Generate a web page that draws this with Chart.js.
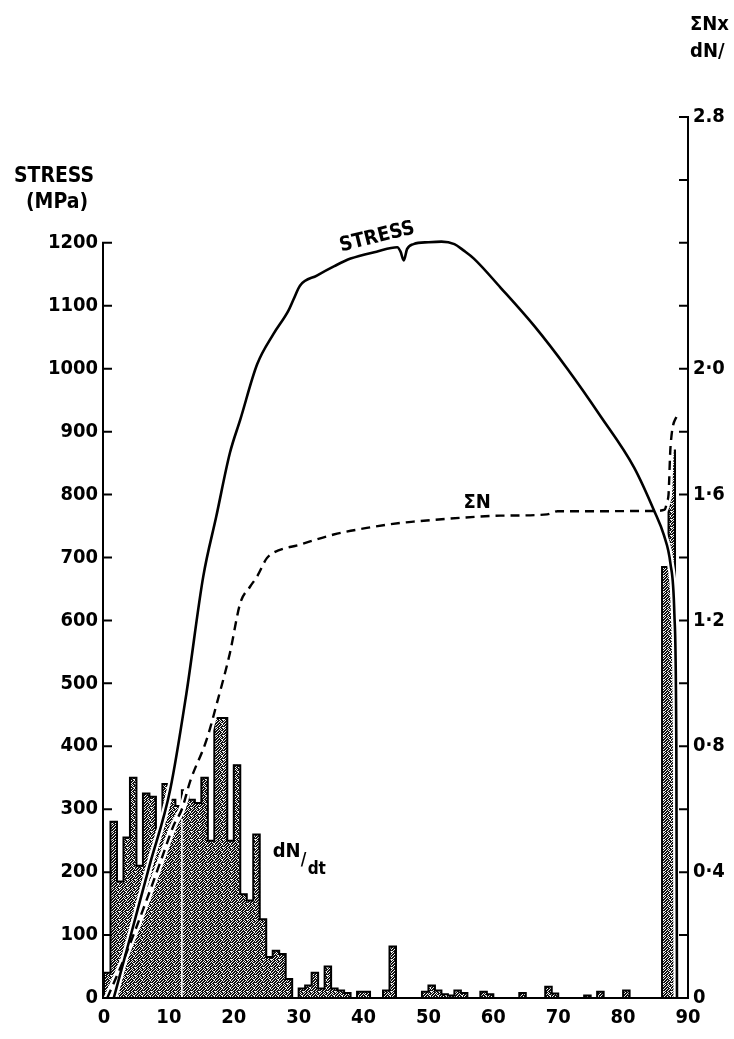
<!DOCTYPE html>
<html>
<head>
<meta charset="utf-8">
<script src="https://cdn.jsdelivr.net/npm/chart.js@4"></script>
<style>
  html, body { margin: 0; padding: 0; background: #fff; }
  canvas { display: block; }
</style>
</head>
<body>
<canvas id="stressChart" width="734" height="1039"></canvas>
<script>
// stress curve, left axis (MPa)
const stressTime = [1.5, 4, 7, 10.2, 12.7, 15.3, 17.3, 19.4, 21.0, 23.6, 26.1, 28.4, 29.2, 30.2, 32.8, 35.5, 38, 42, 45.2, 45.7, 46.2, 46.7, 47.7, 50, 52, 54, 55.4, 57, 61.1, 66.3, 71.4, 76.5, 81.7, 84.8, 86.3, 87.3, 87.9, 88.2, 88.3];
const stressMPa = [0, 95, 210, 331, 484, 670, 765, 866, 919, 1007, 1055, 1092, 1110, 1132, 1148, 1163, 1175, 1186, 1193, 1186, 1172, 1190, 1198, 1201, 1202, 1198, 1188, 1175, 1129, 1068, 1000, 925, 843, 774, 735, 690, 610, 400, 0];

// cumulative count, right axis
const sumNTime = [0.5, 3, 6, 9, 10.7, 12, 13.3, 15.8, 17.4, 19.4, 21.0, 22.5, 23.6, 25.1, 26.1, 30.2, 35.4, 40.5, 45.7, 48.3, 54.9, 61.1, 68.3, 69.9, 75, 84.8, 86.4, 86.8, 87.0, 87.3, 88.4];
const sumN = [0, 0.12, 0.28, 0.45, 0.547, 0.6, 0.69, 0.82, 0.937, 1.096, 1.255, 1.307, 1.34, 1.398, 1.415, 1.441, 1.473, 1.494, 1.51, 1.515, 1.526, 1.533, 1.537, 1.547, 1.547, 1.548, 1.552, 1.58, 1.6, 1.75, 1.86];

// dN/dt histogram, one bin per unit of time starting at 0 (right axis)
const rateBins = [
  0.08, 0.56, 0.37, 0.51, 0.70, 0.42, 0.65, 0.64, 0.54, 0.68,
  0.63, 0.61, 0.66, 0.63, 0.62, 0.70, 0.50, 0.89, 0.89, 0.50,
  0.74, 0.33, 0.31, 0.52, 0.25, 0.13, 0.15, 0.14, 0.06, 0,
  0.03, 0.04, 0.08, 0.03, 0.10, 0.03, 0.024, 0.016, 0, 0.02,
  0.02, 0, 0, 0.024, 0.164, 0, 0, 0, 0, 0.02,
  0.04, 0.024, 0.012, 0.008, 0.024, 0.016, 0, 0, 0.02, 0.012,
  0, 0, 0, 0, 0.016, 0, 0, 0, 0.036, 0.014,
  0, 0, 0, 0, 0.008, 0, 0.02, 0, 0, 0,
  0.024, 0, 0, 0, 0, 0, 1.37, 1.74, 0, 0
];

// the thin white line across the histogram
const markerTime = 12;
const markerTop = 0.57;

// tick labels
const timeTicks = [0, 10, 20, 30, 40, 50, 60, 70, 80, 90];
const stressMax = 1200;
const rightLabels = { '0': '0', '0.4': '0·4', '0.8': '0·8', '1.2': '1·2', '1.6': '1·6', '2': '2·0', '2.8': '2.8' };

const FONT = "'DejaVu Sans Condensed', 'DejaVu Sans', sans-serif";

// grainy fill, like the stippled bars of the print
function makeStipple() {
  const rows = [
    '10110110',
    '01101011',
    '11010110',
    '10111001',
    '01101101',
    '11011010',
    '10110111',
    '01101100'
  ];
  const c = document.createElement('canvas');
  c.width = 8; c.height = 8;
  const g = c.getContext('2d');
  g.fillStyle = '#f2f2f2';
  g.fillRect(0, 0, 8, 8);
  g.fillStyle = '#111';
  rows.forEach((r, y) => {
    for (let x = 0; x < 8; x++) if (r[x] === '1') g.fillRect(x, y, 1, 1);
  });
  return g.createPattern(c, 'repeat');
}

const stressPts = stressTime.map((t, i) => ({ x: t, y: stressMPa[i] }));
const sumNPts = sumNTime.map((t, i) => ({ x: t, y: sumN[i] }));
const barPts = rateBins.map((v, i) => ({ x: i + 0.5, y: v }));
const outlinePts = [{ x: 0, y: 0 }].concat(rateBins.map((v, i) => ({ x: i, y: v })), [{ x: 90, y: 0 }]);

// axes with inward ticks, plus the text written on the figure
const figureText = {
  id: 'figureText',
  afterDraw(chart) {
    const { ctx, scales } = chart;
    const x = scales.x, y = scales.y, y2 = scales.y2;
    ctx.save();
    ctx.strokeStyle = '#000';
    ctx.lineWidth = 2;
    ctx.lineCap = 'square';

    // left axis
    const lx = x.getPixelForValue(0) - 1;
    ctx.beginPath();
    ctx.moveTo(lx, y.getPixelForValue(0));
    ctx.lineTo(lx, y.getPixelForValue(stressMax));
    for (let v = 0; v <= stressMax; v += 100) {
      const py = y.getPixelForValue(v);
      ctx.moveTo(lx, py);
      ctx.lineTo(lx + 8, py);
    }
    ctx.stroke();

    // right axis
    const rx = x.getPixelForValue(90);
    ctx.beginPath();
    ctx.moveTo(rx, y2.getPixelForValue(0));
    ctx.lineTo(rx, y2.getPixelForValue(2.8));
    for (let k = 0; k <= 14; k++) {
      const py = y2.getPixelForValue(k * 0.2);
      ctx.moveTo(rx, py);
      ctx.lineTo(rx - 8, py);
    }
    ctx.stroke();

    // time axis
    ctx.beginPath();
    ctx.moveTo(lx, y.getPixelForValue(0));
    ctx.lineTo(rx, y.getPixelForValue(0));
    ctx.stroke();

    ctx.fillStyle = '#000';
    ctx.textBaseline = 'middle';

    // left axis title
    ctx.textAlign = 'center';
    ctx.font = 'bold 21px ' + FONT;
    ctx.fillText('STRESS', 54, 177);
    ctx.fillText('(MPa)', 57, 203);

    // right axis title, cut by the page edge
    ctx.textAlign = 'left';
    ctx.font = 'bold 20px ' + FONT;
    ctx.fillText('ΣNx', 690, 25);
    ctx.fillText('dN/', 690, 52);

    // curve labels
    ctx.save();
    ctx.translate(x.getPixelForValue(42.1), y.getPixelForValue(1209));
    ctx.rotate(-14 * Math.PI / 180);
    ctx.textAlign = 'center';
    ctx.font = 'bold 20px ' + FONT;
    ctx.fillText('STRESS', 0, 0);
    ctx.restore();

    ctx.textAlign = 'center';
    ctx.font = 'bold 20px ' + FONT;
    ctx.fillText('ΣN', x.getPixelForValue(57.5), y2.getPixelForValue(1.573));

    ctx.textAlign = 'left';
    const dx = x.getPixelForValue(26.0);
    const dy = y2.getPixelForValue(0.464);
    ctx.font = 'bold 20px ' + FONT;
    ctx.fillText('dN', dx, dy);
    const w = ctx.measureText('dN').width;
    ctx.font = 'bold 17px ' + FONT;
    ctx.fillText('/', dx + w, dy + 9);
    ctx.fillText('dt', dx + w + 7, dy + 18);

    ctx.restore();
  }
};

const tickFont = { family: FONT, size: 20, weight: 'bold' };

const chart = new Chart(document.getElementById('stressChart').getContext('2d'), {
  type: 'line',
  data: {
    datasets: [
      {
        label: 'STRESS',
        data: stressPts,
        yAxisID: 'y',
        borderColor: '#000',
        borderWidth: 2.6,
        pointRadius: 0,
        cubicInterpolationMode: 'monotone',
        order: 1
      },
      {
        label: 'ΣN',
        data: sumNPts,
        yAxisID: 'y2',
        borderColor: '#000',
        borderWidth: 2.4,
        borderDash: [9, 6],
        pointRadius: 0,
        cubicInterpolationMode: 'monotone',
        order: 2
      },
      {
        label: 'stress halo',
        data: stressPts,
        yAxisID: 'y',
        borderColor: '#fff',
        borderWidth: 7,
        borderCapStyle: 'round',
        pointRadius: 0,
        cubicInterpolationMode: 'monotone',
        order: 4
      },
      {
        label: 'sumN halo',
        data: sumNPts,
        yAxisID: 'y2',
        borderColor: '#fff',
        borderWidth: 7,
        borderCapStyle: 'round',
        pointRadius: 0,
        cubicInterpolationMode: 'monotone',
        order: 5
      },
      {
        label: 'marker',
        data: [{ x: markerTime, y: 0 }, { x: markerTime, y: markerTop }],
        yAxisID: 'y2',
        borderColor: '#fff',
        borderWidth: 1.5,
        pointRadius: 0,
        order: 6
      },
      {
        label: 'dN/dt outline',
        data: outlinePts,
        yAxisID: 'y2',
        stepped: 'before',
        borderColor: '#000',
        borderWidth: 2,
        pointRadius: 0,
        order: 7
      },
      {
        type: 'bar',
        label: 'dN/dt',
        data: barPts,
        yAxisID: 'y2',
        backgroundColor: makeStipple(),
        borderWidth: 0,
        barPercentage: 1,
        categoryPercentage: 1,
        order: 8
      }
    ]
  },
  options: {
    responsive: false,
    animation: false,
    devicePixelRatio: 1,
    layout: { padding: { top: 117, left: 0, right: 0, bottom: 0 } },
    plugins: { legend: { display: false }, tooltip: { enabled: false } },
    scales: {
      x: {
        type: 'linear',
        min: 0,
        max: 90,
        offset: false,
        grid: { display: false, drawTicks: false },
        border: { display: false },
        afterBuildTicks: s => { s.ticks = timeTicks.map(v => ({ value: v })); },
        ticks: { color: '#000', padding: 8, maxRotation: 0, font: tickFont },
        afterFit: s => { s.height = 41; }
      },
      y: {
        position: 'left',
        min: 0,
        max: 1400,
        grid: { display: false, drawTicks: false },
        border: { display: false },
        ticks: {
          stepSize: 100,
          color: '#000',
          padding: 6,
          font: tickFont,
          callback: v => (v <= stressMax ? String(v) : '')
        },
        afterFit: s => { s.width = 104; }
      },
      y2: {
        position: 'right',
        min: 0,
        max: 2.8,
        grid: { display: false, drawTicks: false },
        border: { display: false },
        ticks: {
          stepSize: 0.2,
          color: '#000',
          padding: 5,
          font: tickFont,
          callback: v => rightLabels[String(Math.round(v * 10) / 10)] || ''
        },
        afterFit: s => { s.width = 46; }
      }
    }
  },
  plugins: [figureText]
});
</script>
</body>
</html>
